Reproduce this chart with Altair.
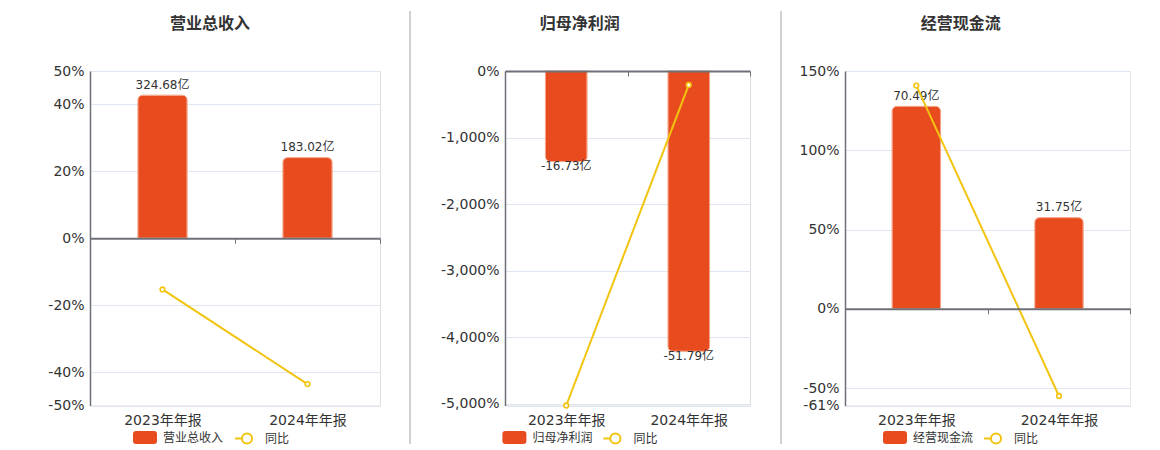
import altair as alt
import pandas as pd

# ---------------- data ----------------
periods = ["2023年年报", "2024年年报"]
yoy_name = "同比"

rev_name = "营业总收入"
rev_values = [324.68, 183.02]
rev_labels = ["324.68亿", "183.02亿"]
rev_yoy = [-15.3, -43.6]

np_name = "归母净利润"
np_values = [-16.73, -51.79]
np_labels = ["-16.73亿", "-51.79亿"]
np_yoy = [-5030.0, -209.6]

cf_name = "经营现金流"
cf_values = [70.49, 31.75]
cf_labels = ["70.49亿", "31.75亿"]
cf_yoy = [140.8, -55.0]

# ---------------- style ----------------
FONT = "DejaVu Sans, Noto Sans CJK SC, sans-serif"
BAR = "#e84b1d"
BAR_EDGE = "#f3a387"
LINE = "#f2c40f"
AXIS = "#6e7079"
GRID = "#e0e6f1"
TEXT = "#333333"
SEP = "#a3a3a3"
H = 334.5

RECT_PATH = ("M-0.75,-0.54L0.75,-0.54Q1,-0.54,1,-0.29L1,0.29Q1,0.54,0.75,0.54"
             "L-0.75,0.54Q-1,0.54,-1,0.29L-1,-0.29Q-1,-0.54,-0.75,-0.54Z")
LINE_PATH = ("M-1,0L-0.42,0M0.42,0A0.42,0.42,0,1,1,-0.42,0"
             "A0.42,0.42,0,1,1,0.42,0")

PCT_EXPR = "datum.value < -5010 ? '' : (datum.value < 0 ? '-' : '') + format(abs(datum.value), ',') + '%'"


def panel(name, values, labels, yoy, W, pdom, pticks, bdom, extent,
          title_x, lx1, lx2, sep_x, sep_color):
    df = pd.DataFrame({
        "period": periods, "value": values, "label": labels, "yoy": yoy,
        "series": [name] * len(periods), "yname": [yoy_name] * len(periods),
    })
    zero_px = H * pdom[1] / (pdom[1] - pdom[0])
    label_pad = (412 - 70) - zero_px - 5

    x_enc = alt.X(
        "period:N", sort=periods,
        scale=alt.Scale(paddingInner=0, paddingOuter=0),
        axis=alt.Axis(
            orient="bottom", offset=-(H - zero_px), domain=True,
            domainColor=AXIS, domainWidth=2, ticks=True, tickBand="extent",
            tickColor=AXIS, tickSize=5, tickWidth=1, labelPadding=label_pad,
            labelFontSize=14, labelColor=TEXT, labelFont=FONT, labelAngle=0,
            title=None, grid=False, zindex=1,
        ),
    )
    bscale = alt.Scale(domain=bdom, nice=False, zero=False)
    pscale = alt.Scale(domain=pdom, nice=False, zero=False)

    base = alt.Chart(df)
    neg = values[0] < 0
    bar_kwargs = dict(width={"band": 0.34}, stroke=BAR_EDGE, strokeWidth=1)
    if neg:
        bar_kwargs.update(cornerRadiusBottomLeft=5, cornerRadiusBottomRight=5)
    else:
        bar_kwargs.update(cornerRadiusTopLeft=5, cornerRadiusTopRight=5)

    bars = base.mark_bar(**bar_kwargs).encode(
        x=x_enc,
        y=alt.Y("value:Q", scale=bscale, axis=None),
        fill=alt.Fill(
            "series:N", scale=alt.Scale(domain=[name], range=[BAR]),
            legend=alt.Legend(
                orient="none", legendX=lx1, legendY=354.5, title=None,
                symbolType=RECT_PATH, symbolSize=576, symbolStrokeWidth=0,
                labelFontSize=12, labelFont=FONT, labelColor=TEXT,
                labelOffset=6, padding=0,
            ),
        ),
    )
    if neg:
        txt = base.mark_text(baseline="top", dy=-0.5, fontSize=12, font=FONT, color=TEXT)
    else:
        txt = base.mark_text(baseline="bottom", dy=-3.5, fontSize=12, font=FONT, color=TEXT)
    txt = txt.encode(x=x_enc, y=alt.Y("value:Q", scale=bscale, axis=None), text="label:N")

    line = base.mark_line(strokeWidth=2).encode(
        x=x_enc,
        y=alt.Y(
            "yoy:Q", scale=pscale,
            axis=alt.Axis(
                orient="left", values=pticks, domain=True, domainColor=AXIS,
                domainWidth=1.5, ticks=False, labelPadding=6, labelFontSize=14,
                labelColor=TEXT, labelFont=FONT, grid=True, gridColor=GRID,
                gridWidth=1, labelExpr=PCT_EXPR, title=None,
                minExtent=extent, maxExtent=extent,
            ),
        ),
        stroke=alt.Stroke(
            "yname:N", scale=alt.Scale(domain=[yoy_name], range=[LINE]),
            legend=alt.Legend(
                orient="none", legendX=lx2, legendY=354.5, title=None,
                symbolType=LINE_PATH, symbolSize=576, symbolStrokeWidth=2,
                symbolFillColor="white", labelFontSize=12, labelFont=FONT,
                labelColor=TEXT, labelOffset=5, padding=0,
            ),
        ),
    )
    pts = base.mark_point(filled=True, fill="white", stroke=LINE, strokeWidth=1.6,
                          size=22, opacity=1).encode(
        x=x_enc, y=alt.Y("yoy:Q", scale=pscale, axis=None)
    )

    one = alt.Chart(pd.DataFrame({"t": [name]}))
    title = one.mark_text(fontSize=16, fontWeight="bold", font=FONT, color=TEXT,
                          align="center", baseline="middle").encode(
        text="t:N", x=alt.value(title_x), y=alt.value(-47)
    )
    sep = one.mark_rule(color=sep_color, strokeWidth=1).encode(
        x=alt.value(sep_x), y=alt.value(-60), y2=alt.value(373)
    )

    return alt.layer(bars, txt, line, pts, title, sep).resolve_scale(
        y="independent"
    ).properties(width=W, height=H)


p1 = panel(rev_name, rev_values, rev_labels, rev_yoy, 290, [-50, 50],
           [50, 40, 20, 0, -20, -40, -50], [-379.5, 379.5], 81.5,
           120, 43, 144, -80, "white")
p2 = panel(np_name, np_values, np_labels, np_yoy, 245, [-5030, 0],
           [0, -1000, -2000, -3000, -4000, -5000, -5030], [-61.8, 0], 114.3,
           74.7, -2.6, 97.4, -95, SEP)
p3 = panel(cf_name, cf_values, cf_labels, cf_yoy, 285.3, [-61, 150],
           [150, 100, 50, 0, -50, -61], [-33.67, 82.8], 83.7,
           115.8, 38, 138, -64, SEP)

chart = alt.hconcat(p1, p2, p3, spacing=9).resolve_scale(
    fill="independent", stroke="independent", x="independent", y="independent"
).resolve_legend(
    fill="independent", stroke="independent"
).properties(
    padding={"left": 0, "top": 2, "right": 0, "bottom": 0}
).configure_view(stroke=None).configure(background="white")

chart.save("out.html", embed_options={"renderer": "svg", "actions": False})
